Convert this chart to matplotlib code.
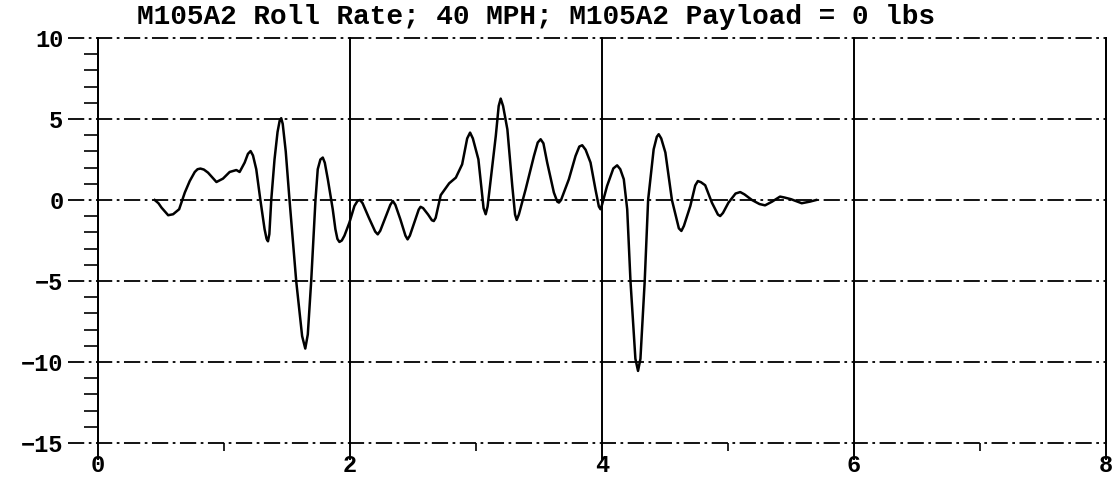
import numpy as np
import matplotlib
matplotlib.use("Agg")
import matplotlib.pyplot as plt

# roll rate trace (time in s, rate in deg/s)
t = [0.45, 0.48, 0.504, 0.557, 0.596, 0.644, 0.689, 0.728, 0.768, 0.79,
     0.813, 0.84, 0.873, 0.94, 0.992, 1.045, 1.098, 1.124, 1.164, 1.19,
     1.211, 1.23, 1.256, 1.288, 1.322, 1.338, 1.349, 1.36, 1.375, 1.401,
     1.425, 1.442, 1.454, 1.466, 1.49, 1.52, 1.573, 1.62, 1.645, 1.665,
     1.692, 1.726, 1.744, 1.765, 1.784, 1.80, 1.824, 1.863, 1.884, 1.90,
     1.916, 1.935, 1.956, 1.995, 2.035, 2.06, 2.08, 2.10, 2.15, 2.20,
     2.22, 2.24, 2.28, 2.32, 2.34, 2.36, 2.40, 2.44, 2.457, 2.475,
     2.51, 2.545, 2.56, 2.58, 2.62, 2.65, 2.665, 2.68, 2.72, 2.787,
     2.84, 2.89, 2.93, 2.953, 2.975, 3.019, 3.06, 3.077, 3.092, 3.117,
     3.157, 3.18, 3.196, 3.215, 3.249, 3.288, 3.31, 3.323, 3.34, 3.394,
     3.46, 3.49, 3.513, 3.535, 3.565, 3.618, 3.645, 3.658, 3.675, 3.737,
     3.79, 3.82, 3.843, 3.87, 3.909, 3.948, 3.975, 3.988, 4.0, 4.04,
     4.09, 4.12, 4.145, 4.173, 4.2, 4.226, 4.265, 4.286, 4.305, 4.339,
     4.366, 4.41, 4.435, 4.45, 4.47, 4.503, 4.555, 4.61, 4.63, 4.65,
     4.701, 4.74, 4.761, 4.785, 4.819, 4.872, 4.92, 4.938, 4.96, 5.004,
     5.06, 5.097, 5.13, 5.19, 5.25, 5.294, 5.35, 5.413, 5.45, 5.5,
     5.585, 5.65, 5.7]
rate = [0, -0.2, -0.47, -0.94, -0.88, -0.57, 0.46, 1.17, 1.73, 1.9,
        1.94, 1.88, 1.69, 1.11, 1.32, 1.73, 1.85, 1.73, 2.31, 2.85,
        3.02, 2.75, 1.9, 0.04, -1.8, -2.4, -2.55, -2.1, 0, 2.51,
        4.2, 4.9, 5.05, 4.7, 3.0, 0, -5, -8.4, -9.17, -8.3,
        -5, 0, 1.9, 2.5, 2.62, 2.3, 1.28, -0.57, -1.8, -2.4,
        -2.59, -2.5, -2.2, -1.4, -0.37, -0.05, 0, -0.2, -1.1, -1.95,
        -2.12, -1.9, -1.1, -0.3, -0.06, -0.3, -1.2, -2.2, -2.43, -2.2,
        -1.4, -0.6, -0.42, -0.5, -0.9, -1.25, -1.3, -1.1, 0.3, 1.03,
        1.38, 2.2, 3.8, 4.16, 3.8, 2.51, -0.5, -0.88, -0.4, 1.28,
        3.95, 5.8, 6.26, 5.8, 4.36, 0.86, -0.9, -1.23, -0.9, 0.66,
        2.72, 3.55, 3.75, 3.5, 2.31, 0.46, -0.1, -0.16, 0, 1.28,
        2.72, 3.3, 3.38, 3.1, 2.31, 0.66, -0.4, -0.57, -0.3, 0.86,
        1.95, 2.14, 1.9, 1.28, -0.57, -5, -9.8, -10.55, -9.8, -5,
        0, 3.13, 3.9, 4.06, 3.8, 2.93, 0, -1.75, -1.91, -1.6,
        -0.37, 0.9, 1.17, 1.1, 0.91, -0.16, -0.9, -0.99, -0.8, -0.16,
        0.4, 0.49, 0.35, 0, -0.25, -0.33, -0.1, 0.21, 0.15, 0.05,
        -0.2, -0.1, 0]

yticks = [10, 5, 0, -5, -10, -15]
xticks = [0, 2, 4, 6, 8]
title = "M105A2 Roll Rate; 40 MPH; M105A2 Payload = 0 lbs"

plt.rcParams['font.family'] = ['Liberation Mono', 'DejaVu Sans Mono']
plt.rcParams['font.weight'] = 'bold'

fig = plt.figure(figsize=(11.18, 4.8), dpi=100)
ax = fig.add_axes([98/1118, 1-443/480, 1008/1118, 405/480])
ax.set_xlim(0, 8)
ax.set_ylim(-15, 10)

dd = (0, (9, 2.5, 1.5, 2.5))
# horizontal dash-dot grid, running out into the major tick area
for y in yticks:
    ax.axhline(y, xmin=-0.03, xmax=1, color='black', lw=1.3, ls=dd, clip_on=False)
# vertical solid grid, poking below the bottom line
for x in xticks:
    ax.axvline(x, ymin=-16/405, ymax=1, color='black', lw=1.4, clip_on=False)

ax.plot(t, rate, color='black', lw=1.8, solid_joinstyle='round')

for s in ['top', 'bottom']:
    ax.spines[s].set_visible(False)
for s in ['left', 'right']:
    ax.spines[s].set_linewidth(1.4)

ax.set_yticks(yticks)
ax.set_yticklabels([str(y).replace('-', '\u2212') for y in yticks])
ax.set_yticks(np.arange(-15, 11, 1), minor=True)
ax.set_xticks(xticks)
ax.set_xticks([1, 3, 5, 7], minor=True)
ax.tick_params(axis='y', which='major', length=0, pad=25, labelsize=17)
ax.tick_params(axis='y', which='minor', direction='out', length=10, width=1.2)
ax.tick_params(axis='x', which='major', length=0, pad=8, labelsize=17)
ax.tick_params(axis='x', which='minor', direction='out', length=6, width=1.2)

ax.set_title(title, fontsize=20, fontweight='bold', pad=10, x=(536-98)/1008)

fig.savefig('out.png', dpi=100)
